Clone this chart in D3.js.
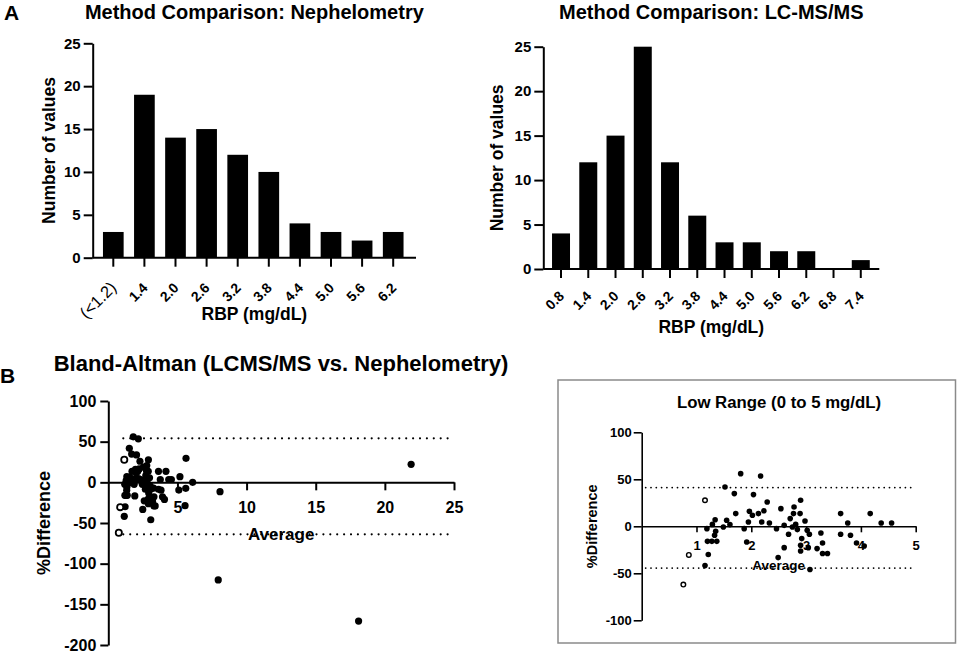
<!DOCTYPE html>
<html>
<head>
<meta charset="utf-8">
<script src="https://cdn.jsdelivr.net/npm/d3@7"></script>
<style>
  body { margin: 0; background: #fff; }
  svg text { font-family: "Liberation Sans", Arial, sans-serif; fill: #000; }
</style>
</head>
<body>
<svg id="chart" width="957" height="653"></svg>
<script>
// histogram data
const nephBins = ["(<1.2)", "1.4", "2.0", "2.6", "3.2", "3.8", "4.4", "5.0", "5.6", "6.2"];
const nephCounts = [3, 19, 14, 15, 12, 10, 4, 3, 2, 3];
const lcmsBins = ["0.8", "1.4", "2.0", "2.6", "3.2", "3.8", "4.4", "5.0", "5.6", "6.2", "6.8", "7.4"];
const lcmsCounts = [4, 12, 15, 25, 12, 6, 3, 3, 2, 2, 0, 1];
const countTicks = [0, 5, 10, 15, 20, 25];

// bland-altman data (average mg/dL, % difference)
const filledAvg = [1.19, 1.20, 1.215, 1.155, 1.29, 1.34, 1.35, 1.33, 1.28, 1.37, 1.49, 1.55, 1.61, 1.52, 1.69,
  1.716, 1.806, 1.87, 1.916, 1.947, 1.965, 2.02, 2.04, 2.13, 2.17, 2.19, 2.23,
  2.29, 2.33, 2.46, 2.54, 2.60, 2.68, 2.60, 2.49, 2.71, 2.77, 2.78, 2.90, 2.89, 2.75, 2.81, 2.84,
  2.98, 3.02, 3.06, 2.92, 2.90, 2.90, 3.04, 3.07, 3.27, 3.30, 3.20, 3.30, 3.39,
  3.63, 3.76, 3.63, 3.81, 3.92, 4.06, 4.17, 4.37, 4.56,
  5.1, 5.18, 5.55, 5.6, 5.62, 6.1, 7.95, 8.08, 18.1, 21.9];
const filledDiff = [-2.5, -16, -30, -41.8, 2, 7, -5.3, -9.6, -16, -16, -0.7, 6.4, 1.8, 41.8, 34.8,
  13.5, 56, -2.5, -16.7, 4.6, 16, 11.7, 33.7, 13.5, 53.5, 4.6, 16.5,
  25.9, 3.5, -2.5, 18.8, 1, -8.5, -22.7, -33.3, 8.2, 13.5, 20.6, 27.7, 13.5, -0.7, 2, -3.5,
  5.6, -4.3, -8.5, -13.1, -20.2, -26.2, -22.7, -46, -7.1, -17.7, -23.7, -29, -29,
  13.5, 3.5, -8.5, -9.6, -17.7, -21, 13.5, 3.5, 3.5,
  -9.5, 7, -28.7, -7.4, 29.5, 0, -120, -11.5, -170.6, 22.1];
const openAvg = [1.155, 0.86, 0.76];
const openDiff = [27.7, -30.5, -62];

const mainLimits = [54.1, -63.9];
const lowLimits = [41.2, -44.4];
const mainXTicks = [5, 10, 15, 20, 25];
const mainYTicks = [100, 50, 0, -50, -100, -150, -200];
const lowXTicks = [1, 2, 3, 4, 5];
const lowYTicks = [100, 50, 0, -50, -100];

const svg = d3.select("#chart");
const plain = d => String(d);

function styleAxis(sel, width, fontSize) {
  sel.selectAll("path, line").attr("stroke", "#000").attr("stroke-width", width);
  sel.selectAll("text").attr("font-size", fontSize).attr("font-weight", "bold")
    .attr("font-family", '"Liberation Sans", Arial, sans-serif');
}

function histogram(cfg) {
  const g = svg.append("g");
  const x = d3.scaleBand().domain(cfg.bins).range(cfg.band)
    .paddingInner(cfg.pad).paddingOuter(cfg.pad / 2);
  const y = d3.scaleLinear().domain([0, 25]).range([cfg.bottom, cfg.top]);

  g.selectAll("rect").data(cfg.counts).join("rect")
    .attr("x", (d, i) => x(cfg.bins[i]))
    .attr("y", d => y(d))
    .attr("width", x.bandwidth())
    .attr("height", d => y(0) - y(d))
    .attr("fill", "#000");

  const ya = g.append("g").attr("transform", `translate(${cfg.left},0)`)
    .call(d3.axisLeft(y).tickValues(countTicks).tickFormat(plain).tickSize(9).tickPadding(3).tickSizeOuter(0));
  styleAxis(ya, 2, 15);

  // x axis line + ticks
  g.append("line").attr("x1", cfg.left).attr("x2", cfg.right)
    .attr("y1", y(0)).attr("y2", y(0)).attr("stroke", "#000").attr("stroke-width", 2);
  g.selectAll(".xt").data(cfg.bins).join("line")
    .attr("x1", d => x(d) + x.bandwidth() / 2).attr("x2", d => x(d) + x.bandwidth() / 2)
    .attr("y1", y(0)).attr("y2", y(0) + 9).attr("stroke", "#000").attr("stroke-width", 2);
  g.selectAll(".xl").data(cfg.bins).join("text")
    .attr("transform", d => `translate(${x(d) + x.bandwidth() / 2 + 4},${y(0) + cfg.labelDrop}) rotate(-45)`)
    .attr("text-anchor", "end")
    .attr("font-size", d => d.startsWith("(") ? 16.5 : 14)
    .attr("font-weight", d => d.startsWith("(") ? "normal" : "bold")
    .text(d => d);

  const cx = (cfg.left + cfg.right) / 2;
  g.append("text").attr("x", cx).attr("y", 18.5).attr("text-anchor", "middle")
    .attr("font-size", 20).attr("font-weight", "bold").text(cfg.title);
  g.append("text").attr("x", cx).attr("y", cfg.xTitleY).attr("text-anchor", "middle")
    .attr("font-size", 17.5).attr("font-weight", "bold").text("RBP (mg/dL)");
  g.append("text").attr("transform", `translate(${cfg.yTitleX},${(cfg.top + cfg.bottom) / 2}) rotate(-90)`)
    .attr("text-anchor", "middle").attr("font-size", 17.5).attr("font-weight", "bold")
    .text("Number of values");
}

histogram({
  bins: nephBins, counts: nephCounts, title: "Method Comparison: Nephelometry",
  left: 92.7, right: 416, top: 43.3, bottom: 257.7, band: [97.75, 408.75], pad: 0.335,
  xTitleY: 320, yTitleX: 54.5, labelDrop: 31
});
histogram({
  bins: lcmsBins, counts: lcmsCounts, title: "Method Comparison: LC-MS/MS",
  left: 543.3, right: 879.3, top: 46.7, bottom: 269, band: [547.4, 874.4], pad: 0.34,
  xTitleY: 333, yTitleX: 503, labelDrop: 28
});

function blandAltman(cfg) {
  const g = svg.append("g");
  const x = d3.scaleLinear().domain([0, cfg.xMax]).range([cfg.left, cfg.right]);
  const y = d3.scaleLinear().domain([cfg.yTicks[cfg.yTicks.length - 1], cfg.yTicks[0]])
    .range([cfg.bottom, cfg.top]);
  const keep = a => a <= cfg.xMax;

  // limits of agreement
  g.selectAll(".loa").data(cfg.limits).join("line")
    .attr("x1", cfg.left + cfg.dotStart).attr("x2", cfg.right - cfg.dotEnd)
    .attr("y1", d => y(d)).attr("y2", d => y(d))
    .attr("stroke", "#000").attr("stroke-width", cfg.dotW)
    .attr("stroke-linecap", "round").attr("stroke-dasharray", `0,${cfg.dotGap}`);

  const ya = g.append("g").attr("transform", `translate(${cfg.left},0)`)
    .call(d3.axisLeft(y).tickValues(cfg.yTicks).tickFormat(plain).tickSize(8).tickPadding(cfg.yPad).tickSizeOuter(0));
  styleAxis(ya, cfg.axisW, cfg.tickFont);
  const xa = g.append("g").attr("transform", `translate(0,${y(0)})`)
    .call(d3.axisBottom(x).tickValues(cfg.xTicks).tickFormat(plain).tickSize(cfg.xTick).tickPadding(cfg.xPad).tickSizeOuter(0));
  styleAxis(xa, cfg.axisW, cfg.tickFont);

  const filled = filledAvg.map((a, i) => [a, filledDiff[i]]).filter(d => keep(d[0]));
  const open = openAvg.map((a, i) => [a, openDiff[i]]).filter(d => keep(d[0]));
  g.selectAll(".pf").data(filled).join("circle")
    .attr("cx", d => x(d[0])).attr("cy", d => y(d[1])).attr("r", cfg.r).attr("fill", "#000");
  g.selectAll(".po").data(open).join("circle")
    .attr("cx", d => x(d[0])).attr("cy", d => y(d[1])).attr("r", cfg.r - 0.5)
    .attr("fill", "#fff").attr("stroke", "#000").attr("stroke-width", cfg.r > 3 ? 1.8 : 1.4);

  g.append("text").attr("x", (cfg.left + cfg.right) / 2).attr("y", cfg.avgY)
    .attr("text-anchor", "middle").attr("font-size", cfg.titleFont).attr("font-weight", "bold").text("Average");
  g.append("text").attr("transform", `translate(${cfg.yTitleX},${(cfg.top + cfg.bottom) / 2}) rotate(-90)`)
    .attr("text-anchor", "middle").attr("font-size", cfg.titleFont + 1).attr("font-weight", "bold")
    .text("%Difference");
}

blandAltman({
  left: 108.3, right: 454, top: 401, bottom: 645, xMax: 25,
  xTicks: mainXTicks, yTicks: mainYTicks, limits: mainLimits,
  dotStart: 15, dotEnd: 6, dotW: 2.2, dotGap: 6.9, axisW: 2, tickFont: 16,
  yPad: 4, xTick: 8, xPad: 11, r: 3.6, avgY: 540, titleFont: 17, yTitleX: 50
});

// inset box
svg.append("rect").attr("x", 558).attr("y", 380).attr("width", 397.5).attr("height", 263)
  .attr("fill", "none").attr("stroke", "#8a8a8a").attr("stroke-width", 1.5);
svg.append("text").attr("x", 779).attr("y", 408).attr("text-anchor", "middle")
  .attr("font-size", 16.8).attr("font-weight", "bold").text("Low Range (0 to 5 mg/dL)");

blandAltman({
  left: 641.7, right: 915.7, top: 432.3, bottom: 620.3, xMax: 5,
  xTicks: lowXTicks, yTicks: lowYTicks, limits: lowLimits,
  dotStart: 4, dotEnd: 5, dotW: 1.8, dotGap: 5.3, axisW: 1.6, tickFont: 13,
  yPad: 2, xTick: 6, xPad: 8, r: 2.8, avgY: 570, titleFont: 13.5, yTitleX: 596.5
});

svg.append("text").attr("x", 4).attr("y", 20).attr("font-size", 21).attr("font-weight", "bold").text("A");
svg.append("text").attr("x", 0).attr("y", 383).attr("font-size", 21).attr("font-weight", "bold").text("B");
svg.append("text").attr("x", 281).attr("y", 371).attr("text-anchor", "middle")
  .attr("font-size", 22).attr("font-weight", "bold").text("Bland-Altman (LCMS/MS vs. Nephelometry)");
</script>
</body>
</html>
